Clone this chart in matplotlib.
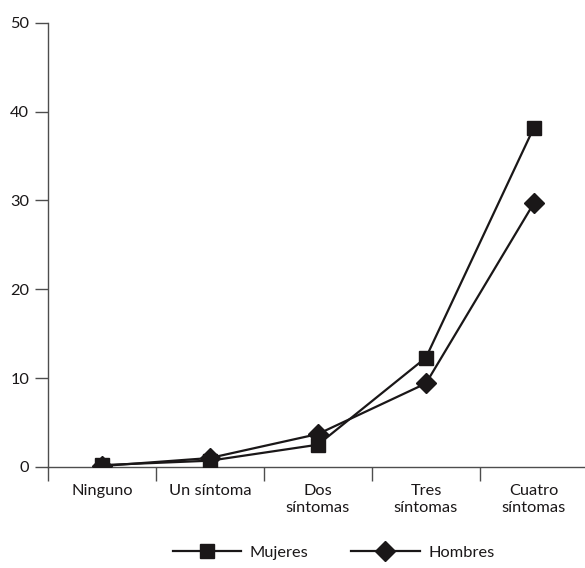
import matplotlib
matplotlib.use('Agg')
import matplotlib.pyplot as plt
import numpy as np
from matplotlib.lines import Line2D

plt.rcParams['font.family'] = ['Lato', 'DejaVu Sans']

categories = ['Ninguno', 'Un síntoma', 'Dos\nsíntomas', 'Tres\nsíntomas', 'Cuatro\nsíntomas']
mujeres = [0.2, 0.7, 2.5, 12.3, 38.2]
hombres = [0.1, 1.0, 3.7, 9.4, 29.7]
y_ticks = [0, 10, 20, 30, 40, 50]

ink = '#1a1718'
axis_col = '#4d4d4d'

fig = plt.figure(figsize=(5.85, 5.68), dpi=100)
ax = fig.add_axes([0.082, 0.178, 0.923, 0.782])

x = np.arange(len(categories)) + 0.5
ax.plot(x, mujeres, color=ink, lw=1.6, marker='s', markersize=10, label='Mujeres', zorder=3)
ax.plot(x, hombres, color=ink, lw=1.6, marker='D', markersize=10, label='Hombres', zorder=4)

ax.set_xlim(0, len(categories))
ax.set_ylim(0, 50)

for s in ['top', 'right']:
    ax.spines[s].set_visible(False)
for s in ['left', 'bottom']:
    ax.spines[s].set_color(axis_col)
    ax.spines[s].set_linewidth(1.0)

ax.set_yticks(y_ticks)
ax.tick_params(axis='y', direction='out', length=9.5, width=1.0, color=axis_col,
               labelsize=11.8, labelcolor=ink, pad=4)

# boundaries as major ticks, labels centered on minor ticks
ax.set_xticks(np.arange(len(categories)))
ax.set_xticklabels([])
ax.set_xticks(x, minor=True)
ax.set_xticklabels(categories, minor=True)
ax.tick_params(axis='x', which='major', direction='out', length=10, width=1.0, color=axis_col)
ax.tick_params(axis='x', which='minor', length=0, labelsize=11.8, labelcolor=ink, pad=12)
for lab in ax.get_xticklabels(minor=True):
    lab.set_linespacing(1.3)

handles = [Line2D([], [], color=ink, lw=1.6, marker='s', markersize=10),
           Line2D([], [], color=ink, lw=1.6, marker='D', markersize=10)]
fig.legend(handles, ['Mujeres', 'Hombres'], loc='center', bbox_to_anchor=(0.57, 0.027),
           ncol=2, frameon=False, fontsize=11.8, handlelength=4.2, columnspacing=2.6,
           handletextpad=0.5, labelcolor=ink)

fig.savefig('out.png', dpi=100)
